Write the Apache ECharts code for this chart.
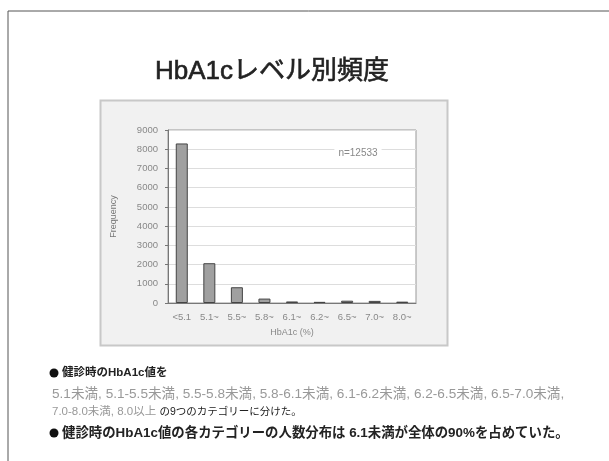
<!DOCTYPE html>
<html><head><meta charset="utf-8">
<script src="https://cdn.jsdelivr.net/npm/echarts@6/dist/echarts.min.js"></script>
<style>html,body{margin:0;padding:0;background:#fff;}#c{width:609px;height:461px;}</style>
</head><body><div id="c"></div>
<script>
const categories = ['<5.1','5.1~','5.5~','5.8~','6.1~','6.2~','6.5~','7.0~','8.0~'];
const frequency = [8300, 2070, 820, 230, 80, 60, 120, 110, 70];
const yMin = 0, yMax = 9000, yStep = 1000;
const titleText = 'HbA1cレベル別頻度';
const nLabel = 'n=12533';
const bullet1 = '健診時のHbA1c値を';
const line2 = '5.1未満, 5.1-5.5未満, 5.5-5.8未満, 5.8-6.1未満, 6.1-6.2未満, 6.2-6.5未満, 6.5-7.0未満,';
const line3a = '7.0-8.0未満, 8.0以上';
const line3b = 'の9つのカテゴリーに分けた。';
const bullet2 = '健診時のHbA1c値の各カテゴリーの人数分布は 6.1未満が全体の90%を占めていた。';

const chart = echarts.init(document.getElementById('c'), null, {renderer:'canvas'});
const font = '"Liberation Sans", "Noto Sans CJK JP", sans-serif';
chart.setOption({
  backgroundColor:'#fff',
  animation:false,
  textStyle:{fontFamily:font},
  grid:{left:168, right:193, top:130, bottom:158, show:true, backgroundColor:'#fff', borderColor:'#999', borderWidth:1},
  xAxis:{type:'category', data:categories, name:'HbA1c (%)', nameLocation:'middle', nameGap:25,
    nameTextStyle:{color:'#888', fontSize:9},
    axisLine:{lineStyle:{color:'#777'}}, axisTick:{show:false},
    axisLabel:{color:'#888', fontSize:9.5, interval:0, margin:10}},
  yAxis:{type:'value', min:yMin, max:yMax, interval:yStep, name:'Frequency', nameLocation:'middle', nameGap:50,
    nameTextStyle:{color:'#777', fontSize:9},
    axisLine:{show:true, lineStyle:{color:'#777'}}, axisTick:{show:true, length:3, lineStyle:{color:'#777'}},
    axisLabel:{color:'#888', fontSize:9.5, margin:10, formatter:function(v){return String(v);}},
    splitLine:{lineStyle:{color:'#ddd'}}},
  series:[{type:'bar', data:frequency, barWidth:12,
    itemStyle:{color:'#a0a0a0', borderColor:'#444', borderWidth:1}}],
  graphic:[
    {type:'line', shape:{x1:8,y1:11,x2:609,y2:11}, style:{stroke:'#555', lineWidth:1}, z:-5},
    {type:'line', shape:{x1:8,y1:11,x2:8,y2:461}, style:{stroke:'#555', lineWidth:1}, z:-5},
    {type:'rect', shape:{x:100.5,y:100.5,width:347,height:245}, style:{fill:'#f1f1f1', stroke:'#c8c8c8', lineWidth:2}, z:-10},
    {type:'text', x:272, y:72, style:{text:titleText, fill:'#222', font:'26px '+font, textAlign:'center', textVerticalAlign:'middle', stroke:'#222', lineWidth:0.6}},
    {type:'text', x:358, y:153, z:10, style:{text:nLabel, fill:'#888', font:'10px '+font, textAlign:'center', textVerticalAlign:'middle', backgroundColor:'#fff', padding:[2,4]}},
    {type:'circle', shape:{cx:54, cy:373, r:4.5}, style:{fill:'#111'}},
    {type:'text', x:62, y:373, style:{text:bullet1, fill:'#222', font:'bold 11.5px '+font, textVerticalAlign:'middle'}},
    {type:'text', x:52, y:394, style:{text:line2, fill:'#999', font:'13.6px '+font, textVerticalAlign:'middle'}},
    {type:'text', x:52, y:412, style:{text:'{a|'+line3a+'} {b|'+line3b+'}', textVerticalAlign:'middle',
      rich:{a:{fill:'#999', fontSize:11.5, fontFamily:font}, b:{fill:'#222', fontSize:10.5, fontFamily:font}}}},
    {type:'circle', shape:{cx:54, cy:433, r:4.5}, style:{fill:'#111'}},
    {type:'text', x:62, y:433, style:{text:bullet2, fill:'#222', font:'bold 13.4px '+font, textVerticalAlign:'middle'}}
  ]
});
</script></body></html>
